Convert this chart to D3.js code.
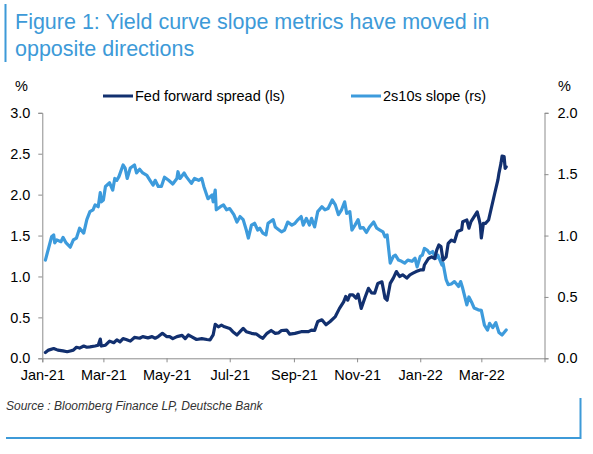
<!DOCTYPE html>
<html>
<head>
<meta charset="utf-8">
<script src="https://cdn.jsdelivr.net/npm/d3@7"></script>
<style>
  body { margin: 0; background: #fff; }
  svg { font-family: "Liberation Sans", Arial, sans-serif; }
</style>
</head>
<body>
<div id="chart"></div>
<script>
// Fed forward spread, left scale (%)
var fedSpread = [
  ["2021-01-04",0.07],["2021-01-07",0.10],["2021-01-12",0.12],["2021-01-16",0.10],["2021-01-21",0.09],
  ["2021-01-25",0.08],["2021-01-28",0.09],["2021-01-31",0.10],["2021-02-03",0.135],["2021-02-06",0.125],
  ["2021-02-10",0.15],["2021-02-13",0.135],["2021-02-16",0.14],["2021-02-21",0.15],["2021-02-24",0.16],
  ["2021-02-26",0.235],["2021-02-27",0.15],["2021-03-03",0.16],["2021-03-07",0.21],["2021-03-11",0.19],
  ["2021-03-14",0.225],["2021-03-17",0.20],["2021-03-20",0.24],["2021-03-23",0.23],["2021-03-27",0.21],
  ["2021-03-31",0.255],["2021-04-05",0.245],["2021-04-08",0.265],["2021-04-13",0.25],["2021-04-17",0.265],
  ["2021-04-20",0.245],["2021-04-23",0.265],["2021-04-27",0.305],["2021-05-01",0.265],["2021-05-04",0.265],
  ["2021-05-07",0.24],["2021-05-11",0.265],["2021-05-16",0.28],["2021-05-19",0.24],["2021-05-22",0.285],
  ["2021-05-25",0.265],["2021-05-30",0.23],["2021-06-04",0.24],["2021-06-09",0.23],["2021-06-12",0.225],
  ["2021-06-15",0.285],["2021-06-17",0.415],["2021-06-20",0.385],["2021-06-23",0.405],["2021-06-26",0.385],
  ["2021-07-01",0.365],["2021-07-04",0.325],["2021-07-08",0.285],["2021-07-11",0.325],["2021-07-14",0.365],
  ["2021-07-17",0.325],["2021-07-22",0.305],["2021-07-27",0.295],["2021-07-30",0.265],["2021-08-02",0.245],
  ["2021-08-06",0.305],["2021-08-10",0.34],["2021-08-14",0.305],["2021-08-17",0.31],["2021-08-20",0.34],
  ["2021-08-25",0.345],["2021-08-28",0.295],["2021-09-02",0.305],["2021-09-08",0.325],["2021-09-15",0.325],
  ["2021-09-18",0.345],["2021-09-21",0.34],["2021-09-24",0.45],["2021-09-28",0.47],["2021-10-02",0.41],
  ["2021-10-06",0.45],["2021-10-11",0.51],["2021-10-15",0.61],["2021-10-19",0.69],["2021-10-21",0.755],
  ["2021-10-23",0.71],["2021-10-25",0.775],["2021-10-28",0.775],["2021-10-31",0.735],["2021-11-02",0.785],
  ["2021-11-05",0.61],["2021-11-09",0.755],["2021-11-12",0.855],["2021-11-15",0.80],["2021-11-18",0.795],
  ["2021-11-21",0.915],["2021-11-25",0.935],["2021-11-28",0.735],["2021-11-30",0.71],["2021-12-03",0.915],
  ["2021-12-06",0.98],["2021-12-09",1.06],["2021-12-12",1.00],["2021-12-15",1.02],["2021-12-19",0.98],
  ["2021-12-22",1.02],["2021-12-25",1.04],["2021-12-28",1.06],["2022-01-01",1.08],["2022-01-04",1.08],
  ["2022-01-05",1.14],["2022-01-09",1.22],["2022-01-12",1.24],["2022-01-15",1.22],["2022-01-17",1.325],
  ["2022-01-19",1.385],["2022-01-21",1.365],["2022-01-23",1.20],["2022-01-26",1.24],["2022-01-28",1.405],
  ["2022-01-31",1.445],["2022-02-03",1.425],["2022-02-06",1.55],["2022-02-10",1.57],["2022-02-11",1.67],
  ["2022-02-15",1.69],["2022-02-17",1.59],["2022-02-19",1.67],["2022-02-23",1.75],["2022-02-25",1.79],
  ["2022-02-27",1.69],["2022-02-28",1.63],["2022-03-01",1.47],["2022-03-03",1.65],["2022-03-05",1.65],
  ["2022-03-08",1.69],["2022-03-11",1.855],["2022-03-14",2.02],["2022-03-17",2.18],["2022-03-18",2.26],
  ["2022-03-20",2.385],["2022-03-21",2.47],["2022-03-23",2.465],["2022-03-24",2.32],["2022-03-25",2.34]
];

// 2s10s slope, right scale (%)
var slope2s10s = [
  ["2021-01-04",0.80],["2021-01-10",0.99],["2021-01-12",1.005],["2021-01-13",0.94],["2021-01-15",0.965],
  ["2021-01-19",0.95],["2021-01-21",0.985],["2021-01-24",0.94],["2021-01-28",0.905],["2021-01-31",0.965],
  ["2021-02-03",0.98],["2021-02-06",1.06],["2021-02-10",1.02],["2021-02-13",1.13],["2021-02-16",1.195],
  ["2021-02-19",1.21],["2021-02-21",1.25],["2021-02-24",1.235],["2021-02-26",1.35],["2021-02-27",1.275],
  ["2021-03-01",1.29],["2021-03-03",1.40],["2021-03-07",1.43],["2021-03-10",1.37],["2021-03-12",1.465],
  ["2021-03-14",1.45],["2021-03-16",1.48],["2021-03-20",1.575],["2021-03-22",1.55],["2021-03-24",1.465],
  ["2021-03-27",1.55],["2021-03-31",1.575],["2021-04-02",1.51],["2021-04-05",1.54],["2021-04-08",1.51],
  ["2021-04-12",1.49],["2021-04-15",1.45],["2021-04-18",1.41],["2021-04-20",1.45],["2021-04-23",1.40],
  ["2021-04-26",1.40],["2021-04-29",1.475],["2021-05-03",1.45],["2021-05-07",1.42],["2021-05-11",1.465],
  ["2021-05-12",1.52],["2021-05-14",1.465],["2021-05-18",1.51],["2021-05-20",1.48],["2021-05-25",1.425],
  ["2021-05-28",1.465],["2021-06-01",1.45],["2021-06-04",1.465],["2021-06-06",1.40],["2021-06-10",1.30],
  ["2021-06-14",1.33],["2021-06-15",1.275],["2021-06-17",1.37],["2021-06-18",1.21],["2021-06-22",1.235],
  ["2021-06-25",1.25],["2021-06-28",1.21],["2021-07-01",1.22],["2021-07-05",1.17],["2021-07-08",1.11],
  ["2021-07-11",1.155],["2021-07-14",1.13],["2021-07-17",1.045],["2021-07-19",0.98],["2021-07-22",1.085],
  ["2021-07-25",1.10],["2021-07-28",1.045],["2021-07-30",1.06],["2021-08-02",1.02],["2021-08-05",1.005],
  ["2021-08-07",1.10],["2021-08-12",1.13],["2021-08-14",1.07],["2021-08-17",1.05],["2021-08-20",1.03],
  ["2021-08-23",1.045],["2021-08-26",1.11],["2021-08-30",1.085],["2021-09-02",1.10],["2021-09-05",1.13],
  ["2021-09-08",1.155],["2021-09-10",1.085],["2021-09-13",1.14],["2021-09-16",1.085],["2021-09-18",1.14],
  ["2021-09-21",1.07],["2021-09-24",1.195],["2021-09-28",1.235],["2021-10-01",1.21],["2021-10-04",1.22],
  ["2021-10-08",1.29],["2021-10-11",1.25],["2021-10-14",1.17],["2021-10-17",1.21],["2021-10-20",1.275],
  ["2021-10-22",1.18],["2021-10-25",1.195],["2021-10-27",1.045],["2021-10-30",1.085],["2021-11-02",1.13],
  ["2021-11-04",1.06],["2021-11-07",1.065],["2021-11-10",1.025],["2021-11-13",1.07],["2021-11-17",1.11],
  ["2021-11-20",1.06],["2021-11-23",1.045],["2021-11-26",1.03],["2021-11-28",0.99],["2021-11-30",1.005],
  ["2021-12-03",0.775],["2021-12-06",0.83],["2021-12-08",0.84],["2021-12-11",0.80],["2021-12-14",0.79],
  ["2021-12-17",0.775],["2021-12-20",0.80],["2021-12-24",0.79],["2021-12-27",0.815],["2021-12-29",0.745],
  ["2022-01-01",0.83],["2022-01-03",0.84],["2022-01-05",0.895],["2022-01-08",0.88],["2022-01-10",0.855],
  ["2022-01-13",0.87],["2022-01-16",0.815],["2022-01-18",0.84],["2022-01-22",0.76],["2022-01-23",0.775],
  ["2022-01-26",0.64],["2022-01-28",0.60],["2022-01-31",0.605],["2022-02-03",0.625],["2022-02-07",0.585],
  ["2022-02-09",0.625],["2022-02-11",0.57],["2022-02-15",0.435],["2022-02-17",0.50],["2022-02-20",0.45],
  ["2022-02-22",0.41],["2022-02-26",0.395],["2022-03-01",0.39],["2022-03-04",0.27],["2022-03-07",0.23],
  ["2022-03-09",0.285],["2022-03-12",0.25],["2022-03-15",0.29],["2022-03-18",0.21],["2022-03-21",0.19],
  ["2022-03-25",0.23]
];

var xTicks = ["2021-01-01","2021-03-01","2021-05-01","2021-07-01","2021-09-01","2021-11-01","2022-01-01","2022-03-01"];
var leftTicks = [0, 0.5, 1, 1.5, 2, 2.5, 3];
var rightTicks = [0, 0.5, 1, 1.5, 2];
var seriesNames = ["Fed forward spread (ls)", "2s10s slope (rs)"];
var seriesColors = ["#12306f", "#3d9bdc"];

var W = 593, H = 454;
var parse = d3.timeParse("%Y-%m-%d");
var svg = d3.select("#chart").append("svg").attr("width", W).attr("height", H);

// title block
svg.append("rect").attr("x", 4.5).attr("y", 4).attr("width", 2).attr("height", 58).attr("fill", "#3d9ad8");
svg.append("text").attr("x", 15).attr("y", 29).attr("font-size", 21.5).attr("fill", "#3d9ad8")
  .text("Figure 1: Yield curve slope metrics have moved in");
svg.append("text").attr("x", 15).attr("y", 56).attr("font-size", 21.5).attr("fill", "#3d9ad8")
  .text("opposite directions");

var x = d3.scaleTime().domain([parse("2021-01-01"), parse("2022-05-01")]).range([42.3, 544.5]);
var yL = d3.scaleLinear().domain([0, 3]).range([358.3, 112.8]);
var yR = d3.scaleLinear().domain([0, 2]).range([358.3, 112.8]);

function styleAxis(g) {
  g.select(".domain").attr("stroke", "#8c8c8c");
  g.selectAll(".tick line").attr("stroke", "#8c8c8c");
  g.selectAll(".tick text").attr("fill", "#000").attr("font-size", 14.5)
    .attr("font-family", "'Liberation Sans', Arial, sans-serif");
}

svg.append("g").attr("transform", "translate(0,358.3)")
  .call(d3.axisBottom(x).tickValues(xTicks.map(parse)).tickFormat(d3.timeFormat("%b-%y")).tickSize(4).tickSizeOuter(4).tickPadding(7))
  .call(styleAxis);

svg.append("g").attr("transform", "translate(42.3,0)")
  .call(d3.axisLeft(yL).tickValues(leftTicks).tickFormat(d3.format(".1f")).tickSize(4).tickSizeOuter(4).tickPadding(8))
  .call(styleAxis);

svg.append("g").attr("transform", "translate(544.5,0)")
  .call(d3.axisRight(yR).tickValues(rightTicks).tickFormat(d3.format(".1f")).tickSize(4).tickSizeOuter(4).tickPadding(9))
  .call(styleAxis);

svg.append("text").attr("x", 15).attr("y", 91).attr("font-size", 14.5).text("%");
svg.append("text").attr("x", 558).attr("y", 91).attr("font-size", 14.5).text("%");

// lines
var lineL = d3.line().x(function(d) { return x(parse(d[0])); }).y(function(d) { return yL(d[1]); });
var lineR = d3.line().x(function(d) { return x(parse(d[0])); }).y(function(d) { return yR(d[1]); });

svg.append("path").datum(slope2s10s).attr("d", lineR)
  .attr("fill", "none").attr("stroke", seriesColors[1]).attr("stroke-width", 3.2)
  .attr("stroke-linejoin", "round").attr("stroke-linecap", "round");
svg.append("path").datum(fedSpread).attr("d", lineL)
  .attr("fill", "none").attr("stroke", seriesColors[0]).attr("stroke-width", 3.2)
  .attr("stroke-linejoin", "round").attr("stroke-linecap", "round");

// legend
var legendX = [103, 351];
seriesNames.forEach(function(name, i) {
  var g = svg.append("g").attr("transform", "translate(" + legendX[i] + ",96)");
  g.append("line").attr("x1", 0).attr("x2", 30).attr("stroke", seriesColors[i]).attr("stroke-width", 3);
  g.append("text").attr("x", 32).attr("y", 5).attr("font-size", 14.5).attr("fill", "#000").text(name);
});

// source + frame
svg.append("text").attr("x", 6).attr("y", 410).attr("font-size", 12).attr("font-style", "italic")
  .attr("fill", "#333").text("Source : Bloomberg Finance LP, Deutsche Bank");
svg.append("path").attr("d", "M6,438H580.5V398").attr("fill", "none").attr("stroke", "#3d9ad8").attr("stroke-width", 2);
</script>
</body>
</html>
